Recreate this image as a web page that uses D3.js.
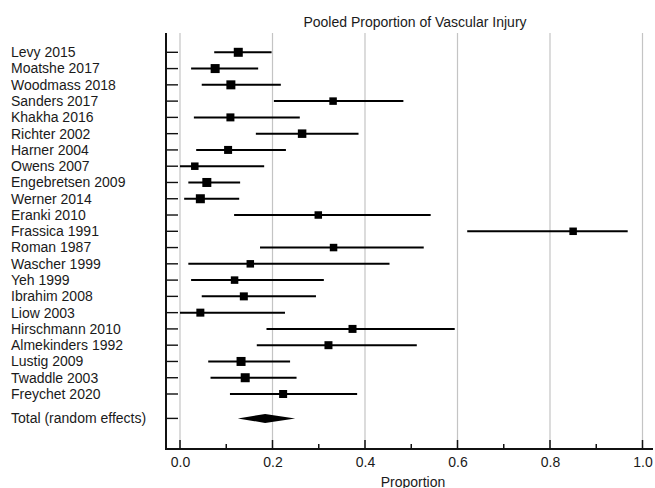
<!DOCTYPE html>
<html>
<head>
<meta charset="utf-8">
<script src="https://cdn.jsdelivr.net/npm/d3@7"></script>
<style>
  body { margin: 0; background: #fff; }
  text { font-family: "Liberation Sans", Arial, sans-serif; fill: #1a1a1a; }
</style>
</head>
<body>
<div id="chart"></div>
<script>
// study data
var studies = ["Levy 2015", "Moatshe 2017", "Woodmass 2018", "Sanders 2017", "Khakha 2016",
  "Richter 2002", "Harner 2004", "Owens 2007", "Engebretsen 2009", "Werner 2014", "Eranki 2010",
  "Frassica 1991", "Roman 1987", "Wascher 1999", "Yeh 1999", "Ibrahim 2008", "Liow 2003",
  "Hirschmann 2010", "Almekinders 1992", "Lustig 2009", "Twaddle 2003", "Freychet 2020"];
var estimate = [0.126, 0.076, 0.110, 0.331, 0.109, 0.264, 0.104, 0.032, 0.058, 0.044, 0.299,
  0.850, 0.332, 0.152, 0.118, 0.138, 0.044, 0.373, 0.321, 0.132, 0.141, 0.223];
var lower = [0.074, 0.024, 0.047, 0.203, 0.030, 0.164, 0.035, 0.000, 0.018, 0.009, 0.117,
  0.621, 0.173, 0.018, 0.024, 0.047, 0.000, 0.187, 0.166, 0.061, 0.066, 0.108];
var upper = [0.198, 0.169, 0.218, 0.483, 0.259, 0.386, 0.229, 0.182, 0.130, 0.128, 0.542,
  0.968, 0.527, 0.453, 0.311, 0.294, 0.227, 0.594, 0.512, 0.238, 0.252, 0.383];
var weight = [9, 9, 9, 7.5, 8, 8.5, 8, 7.5, 9, 9, 7.5, 7.5, 7.5, 7.5, 7.5, 8, 8, 8, 8, 9, 9, 8];

var totalLabel = "Total (random effects)";
var totalEst = 0.184, totalLo = 0.125, totalHi = 0.249;

var majorTicks = [0, 0.2, 0.4, 0.6, 0.8, 1.0];
var minorTicks = [0.1, 0.3, 0.5, 0.7, 0.9];

var width = 655, height = 488;
var svg = d3.select("#chart").append("svg").attr("width", width).attr("height", height);

var x = d3.scaleLinear().domain([0, 1]).range([180, 642.5]);
// rows: studies 0..21, then the total one and a half rows below
var y = d3.scaleLinear().domain([0, 21]).range([52.3, 394]);
var axisLeftX = 166, axisTop = 33, axisBottom = 449;

// grid lines
svg.append("g").selectAll("line").data(majorTicks).join("line")
  .attr("x1", d => x(d)).attr("x2", d => x(d))
  .attr("y1", axisTop).attr("y2", axisBottom)
  .attr("stroke", "#c4c4c4").attr("stroke-width", 1.2);

// title
svg.append("text").attr("x", 415).attr("y", 26.5).attr("text-anchor", "middle")
  .style("font-size", "14px").text("Pooled Proportion of Vascular Injury");

// left axis
var rowsY = studies.map((s, i) => y(i)).concat([y(22.5)]);
svg.append("line").attr("x1", axisLeftX).attr("x2", axisLeftX)
  .attr("y1", axisTop).attr("y2", axisBottom + 1)
  .attr("stroke", "#111").attr("stroke-width", 2);
svg.append("g").selectAll("line").data(rowsY).join("line")
  .attr("x1", axisLeftX).attr("x2", 178).attr("y1", d => d).attr("y2", d => d)
  .attr("stroke", "#111").attr("stroke-width", 1.4);

// labels
svg.append("g").selectAll("text").data(studies.concat([totalLabel])).join("text")
  .attr("x", 11).attr("y", (d, i) => rowsY[i]).attr("dy", "0.35em")
  .style("font-size", "14px").text(d => d);

// bottom axis
var xAxis = d3.axisBottom(x).tickValues(majorTicks).tickFormat(d3.format(".1f"))
  .tickSize(0).tickPadding(8);
var gx = svg.append("g").attr("transform", "translate(0," + axisBottom + ")").call(xAxis);
gx.select(".domain").remove();
gx.selectAll("text").style("font-size", "14px").attr("fill", "#1a1a1a");
svg.append("line").attr("x1", axisLeftX - 1).attr("x2", 653)
  .attr("y1", axisBottom).attr("y2", axisBottom).attr("stroke", "#111").attr("stroke-width", 2);
svg.append("g").selectAll("line").data(majorTicks).join("line")
  .attr("x1", d => x(d)).attr("x2", d => x(d)).attr("y1", axisBottom).attr("y2", axisBottom - 9)
  .attr("stroke", "#111").attr("stroke-width", 1.5);
svg.append("g").selectAll("line").data(minorTicks).join("line")
  .attr("x1", d => x(d)).attr("x2", d => x(d)).attr("y1", axisBottom).attr("y2", axisBottom - 5)
  .attr("stroke", "#111").attr("stroke-width", 1.5);

svg.append("text").attr("x", 413).attr("y", 486.5).attr("text-anchor", "middle")
  .style("font-size", "14px").text("Proportion");

// confidence intervals
svg.append("g").selectAll("line").data(studies).join("line")
  .attr("x1", (d, i) => x(lower[i])).attr("x2", (d, i) => x(upper[i]))
  .attr("y1", (d, i) => y(i)).attr("y2", (d, i) => y(i))
  .attr("stroke", "#000").attr("stroke-width", 2);

// point estimates
svg.append("g").selectAll("rect").data(studies).join("rect")
  .attr("x", (d, i) => x(estimate[i]) - weight[i] / 2)
  .attr("y", (d, i) => y(i) - weight[i] / 2)
  .attr("width", (d, i) => weight[i]).attr("height", (d, i) => weight[i])
  .attr("fill", "#000");

// pooled diamond
var ty = y(22.5);
svg.append("path")
  .attr("d", "M" + x(totalLo) + "," + ty + "L" + x(totalEst) + "," + (ty - 4.5) +
    "L" + x(totalHi) + "," + ty + "L" + x(totalEst) + "," + (ty + 4.5) + "Z")
  .attr("fill", "#000");
</script>
</body>
</html>
